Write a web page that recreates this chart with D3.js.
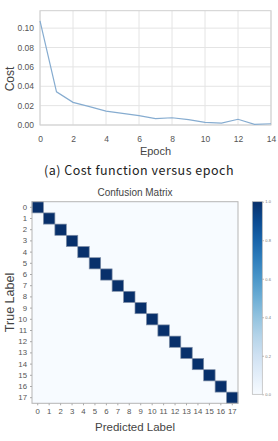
<!DOCTYPE html>
<html>
<head>
<meta charset="utf-8">
<script src="https://cdn.jsdelivr.net/npm/d3@7"></script>
<style>
  body { margin: 0; background: #fff; }
  svg text { font-family: "Liberation Sans", Arial, sans-serif; }
</style>
</head>
<body>
<div id="chart"></div>
<script>
// cost per epoch
const epochs = [0, 1, 2, 3, 4, 5, 6, 7, 8, 9, 10, 11, 12, 13, 14];
const cost = [0.1075, 0.0343, 0.0234, 0.019, 0.0144, 0.012, 0.0096, 0.0065, 0.0075, 0.0055, 0.0028, 0.002, 0.0059, 0.0007, 0.0013];
const costTicks = [0, 0.02, 0.04, 0.06, 0.08, 0.10];
const epochTicks = [0, 2, 4, 6, 8, 10, 12, 14];

// confusion matrix: 18 classes, all on the diagonal
const classes = d3.range(18);
const matrix = classes.map(i => classes.map(j => (i === j ? 1 : 0)));
const barTicks = [0, 0.2, 0.4, 0.6, 0.8, 1.0];

const svg = d3.select('#chart')
  .append('svg')
  .attr('width', 278)
  .attr('height', 441);

// ---- (a) cost vs epoch ----
const lp = { left: 40, right: 271, top: 10.7, bottom: 125 };

const x = d3.scaleLinear().domain([0, 14]).range([lp.left, lp.right]);
const y = d3.scaleLinear().domain([0, 0.118]).range([lp.bottom, lp.top]);

const g1 = svg.append('g');

g1.append('g')
  .selectAll('line')
  .data(epochTicks)
  .join('line')
  .attr('x1', d => x(d)).attr('x2', d => x(d))
  .attr('y1', lp.top).attr('y2', lp.bottom)
  .attr('stroke', '#e4e4e4').attr('stroke-width', 1);

g1.append('g')
  .selectAll('line')
  .data(costTicks)
  .join('line')
  .attr('x1', lp.left).attr('x2', lp.right)
  .attr('y1', d => y(d)).attr('y2', d => y(d))
  .attr('stroke', '#e4e4e4').attr('stroke-width', 1);

g1.append('rect')
  .attr('x', lp.left).attr('y', lp.top)
  .attr('width', lp.right - lp.left).attr('height', lp.bottom - lp.top)
  .attr('fill', 'none').attr('stroke', '#cfcfcf');

const xAxis = g1.append('g')
  .attr('transform', `translate(0,${lp.bottom})`)
  .call(d3.axisBottom(x).tickValues(epochTicks).tickSize(0).tickPadding(11));
const yAxis = g1.append('g')
  .attr('transform', `translate(${lp.left},0)`)
  .call(d3.axisLeft(y).tickValues(costTicks).tickFormat(d3.format('.2f')).tickSize(0).tickPadding(6));
[xAxis, yAxis].forEach(a => {
  a.select('.domain').remove();
  a.selectAll('text').attr('fill', '#555').style('font-size', '8.5px');
});

g1.append('path')
  .datum(epochs)
  .attr('fill', 'none')
  .attr('stroke', '#86acd0')
  .attr('stroke-width', 1.2)
  .attr('d', d3.line().x(d => x(d)).y((d, i) => y(cost[i])));

g1.append('text')
  .attr('x', (lp.left + lp.right) / 2).attr('y', 155)
  .attr('text-anchor', 'middle')
  .attr('fill', '#444').style('font-size', '11px')
  .text('Epoch');

g1.append('text')
  .attr('transform', 'translate(13.5,79) rotate(-90)')
  .attr('text-anchor', 'middle')
  .attr('fill', '#444').style('font-size', '12px')
  .text('Cost');

svg.append('text')
  .attr('x', 139).attr('y', 174.5)
  .attr('text-anchor', 'middle')
  .attr('fill', '#222')
  .style('font-family', '"Noto Sans CJK KR", "Noto Sans", sans-serif')
  .style('font-size', '12.5px')
  .style('letter-spacing', '0.5px')
  .text('(a) Cost function versus epoch');

// ---- confusion matrix ----
const cm = { left: 32, right: 238, top: 201.7, bottom: 403.3 };
const cx = d3.scaleBand().domain(classes).range([cm.left, cm.right]);
const cy = d3.scaleBand().domain(classes).range([cm.top, cm.bottom]);
const color = d3.scaleSequential(d3.interpolateBlues).domain([0, 1]);

const g2 = svg.append('g');

g2.append('rect')
  .attr('x', cm.left).attr('y', cm.top)
  .attr('width', cm.right - cm.left).attr('height', cm.bottom - cm.top)
  .attr('fill', color(0));

const cells = matrix.flatMap((row, i) => row.map((v, j) => ({ i, j, v })));
g2.append('g')
  .selectAll('rect')
  .data(cells.filter(d => d.v > 0))
  .join('rect')
  .attr('x', d => cx(d.j)).attr('y', d => cy(d.i))
  .attr('width', cx.bandwidth()).attr('height', cy.bandwidth())
  .attr('fill', d => color(d.v))
  .attr('stroke', '#7f8ea6').attr('stroke-width', 0.7);

g2.append('rect')
  .attr('x', cm.left).attr('y', cm.top)
  .attr('width', cm.right - cm.left).attr('height', cm.bottom - cm.top)
  .attr('fill', 'none').attr('stroke', '#b5b5b5');

const cxAxis = g2.append('g')
  .attr('transform', `translate(0,${cm.bottom})`)
  .call(d3.axisBottom(cx).tickSize(2).tickPadding(3));
const cyAxis = g2.append('g')
  .attr('transform', `translate(${cm.left},0)`)
  .call(d3.axisLeft(cy).tickSize(2).tickPadding(3));
[cxAxis, cyAxis].forEach(a => {
  a.select('.domain').remove();
  a.selectAll('line').attr('stroke', '#aaa');
  a.selectAll('text').attr('fill', '#555').style('font-size', '7.8px');
});

svg.append('text')
  .attr('x', (cm.left + cm.right) / 2).attr('y', 196)
  .attr('text-anchor', 'middle')
  .attr('fill', '#444').style('font-size', '10px')
  .text('Confusion Matrix');

svg.append('text')
  .attr('x', (cm.left + cm.right) / 2).attr('y', 431)
  .attr('text-anchor', 'middle')
  .attr('fill', '#444').style('font-size', '11.5px')
  .text('Predicted Label');

svg.append('text')
  .attr('transform', `translate(14,${(cm.top + cm.bottom) / 2}) rotate(-90)`)
  .attr('text-anchor', 'middle')
  .attr('fill', '#444').style('font-size', '12.5px')
  .text('True Label');

// ---- colorbar ----
const cb = { left: 252.3, width: 10, top: 201.7, bottom: 394.3 };
const defs = svg.append('defs');
const grad = defs.append('linearGradient')
  .attr('id', 'blues').attr('x1', 0).attr('y1', 1).attr('x2', 0).attr('y2', 0);
grad.selectAll('stop')
  .data(d3.range(0, 1.01, 0.1))
  .join('stop')
  .attr('offset', d => d)
  .attr('stop-color', d => color(d));

svg.append('rect')
  .attr('x', cb.left).attr('y', cb.top)
  .attr('width', cb.width).attr('height', cb.bottom - cb.top)
  .attr('fill', 'url(#blues)')
  .attr('stroke', '#b5b5b5').attr('stroke-width', 0.7);

const cbScale = d3.scaleLinear().domain([0, 1]).range([cb.bottom, cb.top]);
const cbAxis = svg.append('g')
  .attr('transform', `translate(${cb.left + cb.width},0)`)
  .call(d3.axisRight(cbScale).tickValues(barTicks).tickFormat(d3.format('.1f')).tickSize(1.5).tickPadding(1.5));
cbAxis.select('.domain').remove();
cbAxis.selectAll('line').attr('stroke', '#aaa');
cbAxis.selectAll('text').attr('fill', '#777').style('font-size', '4px');
</script>
</body>
</html>
